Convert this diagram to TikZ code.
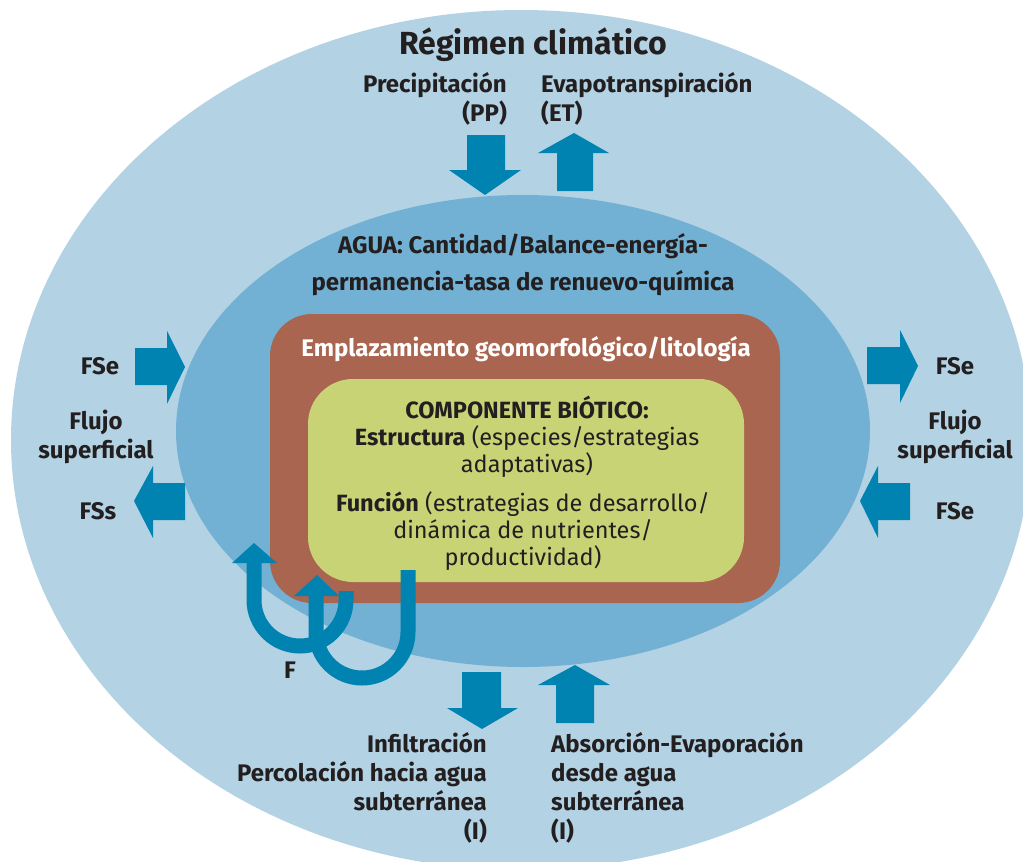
\documentclass[tikz,border=0pt]{standalone}
\usepackage{fontspec}
\setmainfont{Fira Sans}
\definecolor{outerblue}{HTML}{B3D3E4}
\definecolor{midblue}{HTML}{72B1D3}
\definecolor{brownbox}{HTML}{A9654F}
\definecolor{greenbox}{HTML}{C8D375}
\definecolor{arrowblue}{HTML}{0083B0}
\definecolor{txt}{HTML}{231F20}
\begin{document}
\begin{tikzpicture}[x=1pt,y=-1pt,
  lbl/.style={text=txt,font=\bfseries\fontsize{24}{29}\selectfont,inner sep=0pt},
  titlelbl/.style={text=txt,font=\bfseries\fontsize{32}{36}\selectfont,inner sep=0pt},
  biotxt/.style={text=txt,font=\fontsize{23.5}{27}\selectfont,inner sep=0pt,align=center},
  blockarrow/.style={fill=arrowblue},
  uarrow/.style={draw=arrowblue,line width=15pt}]
\useasboundingbox (0,0) rectangle (1023,862);
% layers
\fill[outerblue] (521,440) ellipse [x radius=510, y radius=430];
\fill[midblue] (523,431) ellipse [x radius=347, y radius=236];
\fill[brownbox,rounded corners=42pt] (270,314) rectangle (780,603);
\fill[greenbox,rounded corners=45pt] (308,379) rectangle (744,582);
% texts
\node[titlelbl] (regimen) at (533,45) {Régimen climático};
\node[lbl,anchor=east,align=right] (pp) at (507,99) {Precipitación\\(PP)};
\node[lbl,anchor=west,align=left] (et) at (541,99) {Evapotranspiración\\(ET)};
\node[lbl,align=center,font=\bfseries\fontsize{24}{37}\selectfont] (agua) at (523,265) {AGUA: Cantidad/Balance-energía-\\permanencia-tasa de renuevo-química};
\node[lbl,text=white] (empl) at (526,349) {Emplazamiento geomorfológico/litología};
\node[biotxt] (bio1) at (527,437) {\textbf{COMPONENTE BIÓTICO:}\\\textbf{Estructura} (especies/estrategias\\adaptativas)};
\node[biotxt] (bio2) at (523,531) {\textbf{Función} (estrategias de desarrollo/\\dinámica de nutrientes/\\productividad)};
\node[lbl] (fse1) at (100,366) {FSe};
\node[lbl,align=center] (flujo1) at (96,437) {Flujo\\superficial};
\node[lbl] (fss1) at (98,511) {FSs};
\node[lbl] (fse2) at (955,366) {FSe};
\node[lbl,align=center] (flujo2) at (955,437) {Flujo\\superficial};
\node[lbl] (fse3) at (955,511) {FSe};
\node[lbl,anchor=east,align=right] (infil) at (487,788) {Infiltración\\Percolación hacia agua\\subterránea\\(I)};
\node[lbl,anchor=west,align=left] (absor) at (551,788) {Absorción-Evaporación\\desde agua\\subterránea\\(I)};
\node[lbl] (flabel) at (290,670) {F};
% block arrows
\fill[blockarrow] (467,135) -- (505,135) -- (505,170) -- (521,170) -- (485,195) -- (449,170) -- (467,170) -- cycle;
\fill[blockarrow] (557,191) -- (593,191) -- (593,153) -- (609,153) -- (574,133) -- (538,153) -- (557,153) -- cycle;
\fill[blockarrow] (462,672) -- (501,672) -- (501,708) -- (518,708) -- (482,729) -- (447,708) -- (462,708) -- cycle;
\fill[blockarrow] (556,723) -- (594,723) -- (594,685) -- (610,685) -- (575,665) -- (538,685) -- (556,685) -- cycle;
\fill[blockarrow] (135,348) -- (167,348) -- (167,331) -- (185,367) -- (167,404) -- (167,385) -- (135,385) -- cycle;
\fill[blockarrow] (185,483) -- (153,483) -- (153,466) -- (134,501) -- (153,538) -- (153,520) -- (185,520) -- cycle;
\fill[blockarrow] (867,347) -- (900,347) -- (900,330) -- (918,366) -- (900,403) -- (900,384) -- (867,384) -- cycle;
\fill[blockarrow] (910,483) -- (878,483) -- (878,466) -- (860,501) -- (878,538) -- (878,520) -- (910,520) -- cycle;
% F loop arrows
\draw[uarrow] (346,591) -- (346,600) arc[start angle=0,end angle=180,radius=46] -- (254,562);
\fill[blockarrow] (232,563) -- (277,563) -- (254,543) -- cycle;
\draw[uarrow] (408,570) -- (408,632) arc[start angle=0,end angle=180,radius=46] -- (316,595);
\fill[blockarrow] (294,596) -- (339,596) -- (317,575) -- cycle;
\end{tikzpicture}
\end{document}
